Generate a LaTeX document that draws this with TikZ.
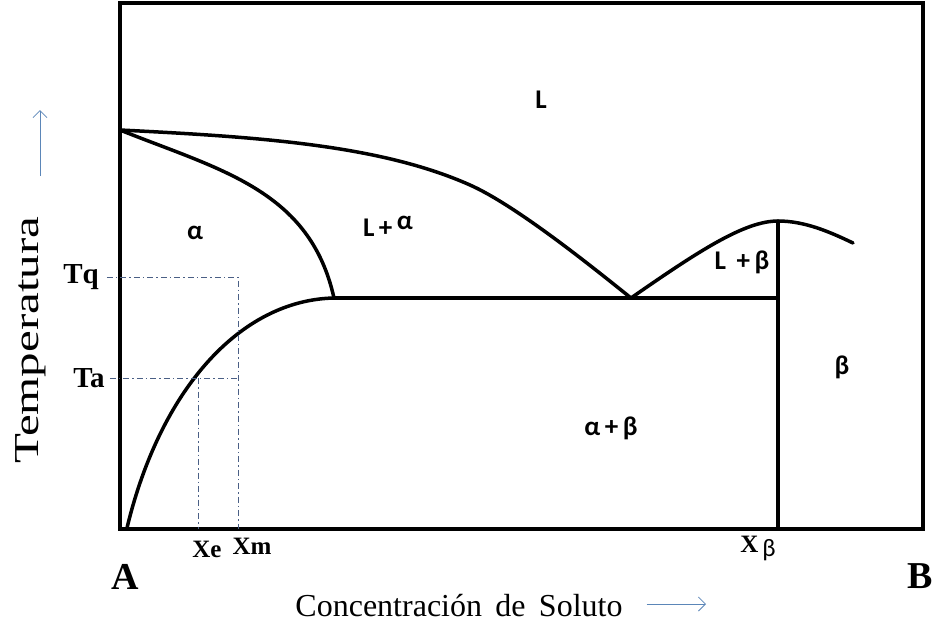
\documentclass[tikz,border=0pt]{standalone}
\usepackage{fontspec}
\setmainfont{Liberation Serif}
\newfontfamily\etiq{Carlito}
\usetikzlibrary{arrows.meta, positioning}
\definecolor{ejeAzul}{HTML}{5B86B8}
\definecolor{guiaAzul}{HTML}{4A5F85}

\begin{document}
\begin{tikzpicture}[x=1pt, y=-1pt,
    marco/.style={line width=4pt},
    curva/.style={line width=3.5pt, line cap=round, line join=round},
    guia/.style={guiaAzul, line width=0.6pt, dash pattern=on 6pt off 3pt on 1.5pt off 3pt},
    fase/.style={font=\etiq\bfseries\fontsize{27}{27}\selectfont, inner sep=0pt},
    marca/.style={font=\bfseries\fontsize{29}{29}\selectfont, inner sep=0pt},
    eje/.style={-{Straight Barb[length=7pt, width=14pt]}, ejeAzul, line width=0.8pt},
    titulo/.style={font=\fontsize{32}{32}\selectfont, inner sep=0pt}]
  \useasboundingbox (0,0) rectangle (935,630);
  \draw[marco] (120,3) rectangle (923,529);
  % puntos del diagrama
  \coordinate (fusA) at (120,130);
  \coordinate (eut) at (631,298);
  \coordinate (solA) at (334,298);
  \coordinate (origen) at (127,528);
  \coordinate (fusB) at (778,221);
  \coordinate (finB) at (853,243);
  \coordinate (baseB) at (778,529);
  \coordinate (eutB) at (778,298);
  % liquidus, solidus y solvus
  \draw[curva] (fusA) .. controls (260,137) and (380,145) .. (470,185)
    .. controls (515,205) and (590,265) .. (eut);
  \draw[curva] (fusA) .. controls (220,170) and (310,190) .. (solA);
  \draw[curva] (origen) .. controls (160,390) and (240,300) .. (solA);
  \draw[curva] (solA) -- (eutB);
  \draw[curva] (eut) .. controls (700,250) and (745,221) .. (fusB)
    .. controls (805,221) and (830,232) .. (finB);
  \draw[curva] (fusB) -- (baseB);
  % fases
  \node[fase] (liq) at (541,100) {L};
  \node[fase] (alfa) at (195,233) {α};
  \node[fase] (liqalfa) at (388,226) {L\,+\,\raisebox{7pt}{α}};
  \node[fase] (liqbeta) at (742,262) {L \,+\,β};
  \node[fase] (beta) at (842,367) {β};
  \node[fase] (alfabeta) at (611,428) {α\,+\,β};
  % temperaturas y composiciones
  \node[marca] (tq) at (81,277) {Tq};
  \node[marca] (ta) at (89,378) {Ta};
  \node[marca, font=\bfseries\fontsize{25}{25}\selectfont] (xe) at (207,549) {Xe};
  \node[marca, font=\bfseries\fontsize{25}{25}\selectfont] (xm) at (252,546) {Xm};
  \node[marca, font=\bfseries\fontsize{25}{25}\selectfont] (xb) at (758,548) {X\,\raisebox{-4pt}{\etiq\mdseries β}};
  \node[marca, font=\bfseries\fontsize{38}{38}\selectfont] (ptA) at (125,577) {A};
  \node[marca, font=\bfseries\fontsize{38}{38}\selectfont] (ptB) at (920,576) {B};
  \coordinate (tqfin) at (238,277);
  \coordinate (tafin) at (238,378);
  \draw[guia] (tq.east) ++(8,0) coordinate (tqini) -- (tqfin) -- (tqfin |- baseB);
  \draw[guia] (ta.east) ++(5,0) coordinate (taini) -- (tafin);
  \draw[guia] (198,378) coordinate (xeini) -- (xeini |- baseB);
  % ejes
  \node[titulo, rotate=90, font=\fontsize{35}{35}\selectfont] (temp) at (31,340) {\scalebox{1.4}[1]{Temperatura}};
  \node[titulo] (conc) at (459,606) {Concentración\, de\, Soluto};
  \coordinate (flechaT0) at (40,176);
  \coordinate (flechaT1) at (40,110);
  \coordinate (flechaC1) at (706,604);
  \draw[eje] (flechaT0) -- (flechaT1);
  \draw[eje] ([xshift=24pt]conc.east |- flechaC1) -- (flechaC1);
\end{tikzpicture}
\end{document}
